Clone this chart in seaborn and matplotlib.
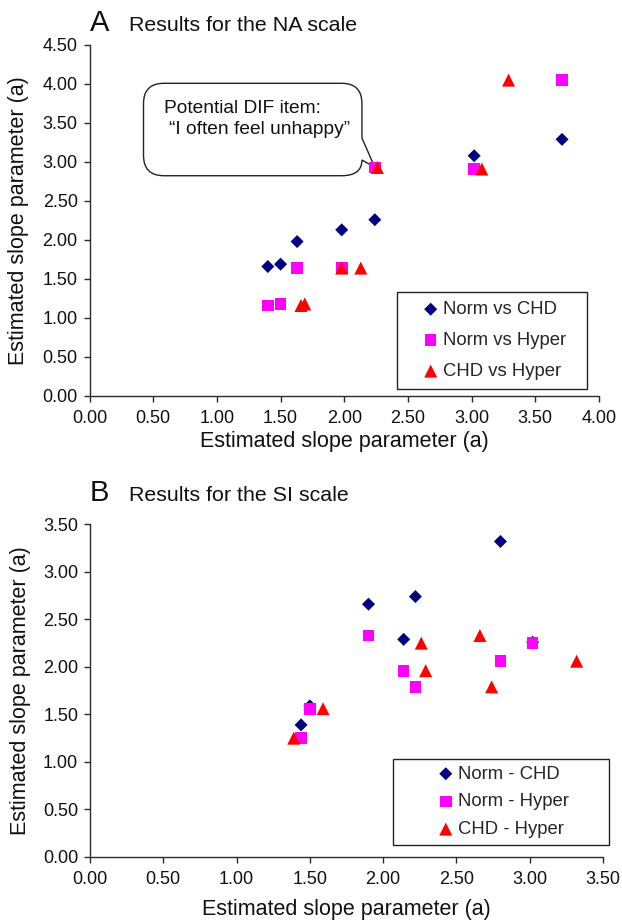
import numpy as np
import pandas as pd
import matplotlib
matplotlib.use("Agg")
import matplotlib.pyplot as plt
import seaborn as sns
from matplotlib.path import Path
from matplotlib.patches import PathPatch

sns.set_style("ticks")
plt.rcParams['font.family'] = ['Liberation Sans', 'DejaVu Sans']

# estimated slope parameters per item
na_norm = [1.40, 1.50, 1.63, 1.98, 2.24, 3.02, 3.71]
na_chd = [1.66, 1.69, 1.98, 2.13, 2.26, 3.08, 3.29]
na_hyper = [1.16, 1.18, 1.64, 1.64, 2.93, 2.91, 4.05]

si_norm = [1.44, 1.50, 1.90, 2.14, 2.22, 2.80, 3.02]
si_chd = [1.39, 1.59, 2.66, 2.29, 2.74, 3.32, 2.26]
si_hyper = [1.25, 1.56, 2.33, 1.96, 1.79, 2.06, 2.25]

dif_item = 4  # "I often feel unhappy" in the NA scale

na_labels = ['Norm vs CHD', 'Norm vs Hyper', 'CHD vs Hyper']
si_labels = ['Norm - CHD', 'Norm - Hyper', 'CHD - Hyper']
na_ticks = np.arange(0, 4.51, 0.5)
na_xticks = np.arange(0, 4.01, 0.5)
si_ticks = np.arange(0, 3.51, 0.5)

markers = ['D', 's', '^']
sizes = [44, 70, 88]
colors = ['#000080', '#ff00ff', '#ff0000']
axis_col = '#2a2a2a'


def pairs_frame(norm, chd, hyper, labels):
    parts = [
        pd.DataFrame({'x': norm, 'y': chd, 'pair': labels[0]}),
        pd.DataFrame({'x': norm, 'y': hyper, 'pair': labels[1]}),
        pd.DataFrame({'x': chd, 'y': hyper, 'pair': labels[2]}),
    ]
    return pd.concat(parts, ignore_index=True)


def draw_panel(ax, df, labels, xticks, yticks):
    for lab, m, s, c in zip(labels, markers, sizes, colors):
        sub = df[df['pair'] == lab]
        sns.scatterplot(data=sub, x='x', y='y', ax=ax, marker=m, s=s, color=c,
                        edgecolor='none', linewidth=0, label=lab, legend=False, zorder=3)
    ax.set_xlim(xticks[0], xticks[-1])
    ax.set_ylim(yticks[0], yticks[-1])
    ax.set_xticks(xticks)
    ax.set_yticks(yticks)
    ax.set_xticklabels([f'{t:.2f}' for t in xticks])
    ax.set_yticklabels([f'{t:.2f}' for t in yticks])
    for side in ['top', 'right']:
        ax.spines[side].set_visible(False)
    for side in ['left', 'bottom']:
        ax.spines[side].set_color(axis_col)
        ax.spines[side].set_linewidth(1.0)
    ax.tick_params(direction='out', length=4, width=1, colors=axis_col, labelcolor='#111111',
                   labelsize=13)
    ax.tick_params(axis='y', pad=4.5)
    ax.tick_params(axis='x', pad=6)
    ax.set_xlabel('Estimated slope parameter (a)', fontsize=15.5, color='#111111')
    ax.set_ylabel('Estimated slope parameter (a)', fontsize=15.5, color='#111111')


fig = plt.figure(figsize=(6.22, 9.22), dpi=100)

# Panel A
axA = fig.add_axes([0.1439, 0.5705, 0.8191, 0.3807])
dfA = pairs_frame(na_norm, na_chd, na_hyper, na_labels)
draw_panel(axA, dfA, na_labels, na_xticks, na_ticks)
axA.xaxis.set_label_coords(0.5, -0.101)
axA.yaxis.set_label_coords(-0.118, 0.5)
legA = axA.legend(loc='upper left', bbox_to_anchor=(0.6035, 0.0, 0.373, 0.296), mode='expand',
                  borderaxespad=0, fancybox=False, edgecolor='#222222', framealpha=1,
                  fontsize=13.3, borderpad=0.485, labelspacing=0.755, handlelength=2.68,
                  handletextpad=-0.69, scatterpoints=1)
legA.get_frame().set_linewidth(1.0)

# speech bubble pointing to the DIF item
tip_x, tip_y = na_norm[dif_item], na_hyper[dif_item]
x0, x1, yb, yt = 0.424, 2.139, 2.824, 4.009
rx, ry = 0.16, 0.26
tail_top, tail_bot = 3.308, 3.026
verts = [
    (x0 + rx, yt), (x1 - rx, yt), (x1, yt), (x1, yt - ry),
    (x1, tail_top), (tip_x, tip_y), (x1, tail_bot),
    (x1, yb), (x1 - rx, yb),
    (x0 + rx, yb), (x0, yb), (x0, yb + ry),
    (x0, yt - ry), (x0, yt), (x0 + rx, yt),
]
codes = [
    Path.MOVETO, Path.LINETO, Path.CURVE3, Path.CURVE3,
    Path.LINETO, Path.LINETO, Path.LINETO,
    Path.CURVE3, Path.CURVE3,
    Path.LINETO, Path.CURVE3, Path.CURVE3,
    Path.LINETO, Path.CURVE3, Path.CURVE3,
]
bubble = PathPatch(Path(verts, codes), facecolor='white', edgecolor='#222222', lw=1.0, zorder=2)
axA.add_patch(bubble)
axA.text(0.585, 3.622, 'Potential DIF item:', fontsize=13.8, va='baseline', color='#111111', zorder=4)
axA.text(0.628, 3.359, '\u201cI often feel unhappy\u201d', fontsize=13.8, va='baseline',
         color='#111111', zorder=4)

fig.text(90 / 622, 1 - 31 / 922, 'A', fontsize=21, va='baseline', color='#111111')
fig.text(129 / 622, 1 - 31 / 922, 'Results for the NA scale', fontsize=15.4, va='baseline',
         color='#111111')

# Panel B
axB = fig.add_axes([0.1447, 0.0705, 0.8248, 0.3608])
dfB = pairs_frame(si_norm, si_chd, si_hyper, si_labels)
draw_panel(axB, dfB, si_labels, si_ticks, si_ticks)
axB.xaxis.set_label_coords(0.5, -0.126)
axB.yaxis.set_label_coords(-0.115, 0.5)
legB = axB.legend(loc='upper left', bbox_to_anchor=(0.5906, 0.0, 0.421, 0.2946), mode='expand',
                  borderaxespad=0, fancybox=False, edgecolor='#222222', framealpha=1,
                  fontsize=13.3, borderpad=0.357, labelspacing=0.578, handlelength=5.0,
                  handletextpad=-1.84, scatterpoints=1)
legB.get_frame().set_linewidth(1.0)

fig.text(90 / 622, 1 - 501 / 922, 'B', fontsize=21, va='baseline', color='#111111')
fig.text(129 / 622, 1 - 501 / 922, 'Results for the SI scale', fontsize=15.4, va='baseline',
         color='#111111')

fig.savefig('out.png', dpi=100)
